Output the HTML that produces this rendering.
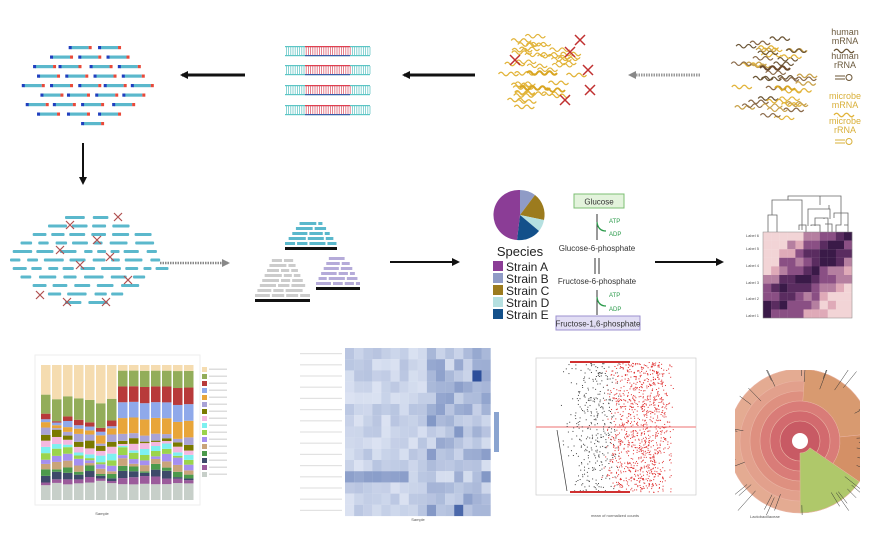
<!DOCTYPE html>
<html><head><meta charset="utf-8"><style>
html,body{margin:0;padding:0;background:#fff;width:884px;height:538px;overflow:hidden}
svg{display:block;font-family:"Liberation Sans",sans-serif}
</style></head><body>
<svg id="s" width="884" height="538" viewBox="0 0 884 538" xmlns="http://www.w3.org/2000/svg">
<defs>
<marker id="ah" markerWidth="8" markerHeight="8" refX="6" refY="4" orient="auto" markerUnits="userSpaceOnUse"><path d="M0,0 L8,4 L0,8 z" fill="#111"/></marker>
<marker id="ag" markerWidth="8" markerHeight="8" refX="6" refY="4" orient="auto" markerUnits="userSpaceOnUse"><path d="M0,0 L8,4 L0,8 z" fill="#888"/></marker>
<clipPath id="sbc"><rect x="735" y="370" width="125" height="145"/></clipPath>
</defs>
<rect x="536" y="358" width="160" height="137" fill="#fff" stroke="#ccc" stroke-width="0.7"/>
<line x1="536" y1="427" x2="696" y2="427" stroke="#f4a0a0" stroke-width="1.5"/>
<g id="g"></g>
<line x1="245" y1="75" x2="182" y2="75" stroke="#111" stroke-width="3" marker-end="url(#ah)"/>
<line x1="475" y1="75" x2="404" y2="75" stroke="#111" stroke-width="3" marker-end="url(#ah)"/>
<line x1="700" y1="75" x2="630" y2="75" stroke="#999" stroke-width="3" stroke-dasharray="1.5 1" marker-end="url(#ag)"/>
<line x1="83" y1="143" x2="83" y2="183" stroke="#111" stroke-width="2" marker-end="url(#ah)"/>
<line x1="160" y1="263" x2="228" y2="263" stroke="#888" stroke-width="2.5" stroke-dasharray="1.5 1" marker-end="url(#ag)"/>
<line x1="390" y1="262" x2="458" y2="262" stroke="#111" stroke-width="2" marker-end="url(#ah)"/>
<line x1="655" y1="262" x2="722" y2="262" stroke="#111" stroke-width="2" marker-end="url(#ah)"/>
<g font-size="9" text-anchor="middle">
<text x="845" y="35" fill="#6b5a3e">human</text><text x="845" y="44" fill="#6b5a3e">mRNA</text>
<text x="845" y="59" fill="#6b5a3e">human</text><text x="845" y="68" fill="#6b5a3e">rRNA</text>
<text x="845" y="99" fill="#d9b03a">microbe</text><text x="845" y="108" fill="#d9b03a">mRNA</text>
<text x="845" y="124" fill="#d9b03a">microbe</text><text x="845" y="133" fill="#d9b03a">rRNA</text>
</g>
<g fill="none" stroke-width="1">
<path d="M835,76 h10 M835,79 h10" stroke="#6b5536"/><circle cx="849" cy="77.5" r="3" stroke="#6b5536"/>
<path d="M835,140 h10 M835,143 h10" stroke="#d9b03a"/><circle cx="849" cy="141.5" r="3" stroke="#d9b03a"/>
</g>
<g transform="translate(520,215)">
<path d="M0,0 L0,-25 A25,25 0 0 1 15,-20 z" fill="#8f9bc6"/>
<path d="M0,0 L15,-20 A25,25 0 0 1 24,5 z" fill="#9c7b1e"/>
<path d="M0,0 L24,5 A25,25 0 0 1 19,16 z" fill="#b5e0e0"/>
<path d="M0,0 L19,16 A25,25 0 0 1 -3,25 z" fill="#13508a"/>
<path d="M0,0 L-3,25 A25,25 0 0 1 0,-25 z" fill="#8b3d96"/>
</g>
<text x="520" y="256" font-size="13" text-anchor="middle" fill="#222">Species</text>
<g font-size="12" fill="#222">
<rect x="493" y="261" width="10" height="10" fill="#8b3d96"/><text x="506" y="271">Strain A</text>
<rect x="493" y="273" width="10" height="10" fill="#8f9bc6"/><text x="506" y="283">Strain B</text>
<rect x="493" y="285" width="10" height="10" fill="#9c7b1e"/><text x="506" y="295">Strain C</text>
<rect x="493" y="297" width="10" height="10" fill="#b5e0e0"/><text x="506" y="307">Strain D</text>
<rect x="493" y="309" width="10" height="10" fill="#13508a"/><text x="506" y="319">Strain E</text>
</g>
<rect x="574" y="194" width="50" height="14" fill="#e3f3dc" stroke="#7cbf73"/>
<text x="599" y="204.5" font-size="8" text-anchor="middle" fill="#333">Glucose</text>
<line x1="597" y1="214" x2="597" y2="240" stroke="#333"/>
<path d="M597,222 Q598,231 606,231" stroke="#2a9a4a" fill="none" stroke-width="1.2"/>
<text x="609" y="223" font-size="6" fill="#2a9a4a">ATP</text><text x="609" y="236" font-size="6" fill="#2a9a4a">ADP</text>
<text x="597" y="251" font-size="8" text-anchor="middle" fill="#333">Glucose-6-phosphate</text>
<line x1="595" y1="258" x2="595" y2="274" stroke="#333"/><line x1="599" y1="258" x2="599" y2="274" stroke="#333"/>
<text x="597" y="284" font-size="8" text-anchor="middle" fill="#333">Fructose-6-phosphate</text>
<line x1="597" y1="290" x2="597" y2="315" stroke="#333"/>
<path d="M597,297 Q598,306 606,306" stroke="#2a9a4a" fill="none" stroke-width="1.2"/>
<text x="609" y="297" font-size="6" fill="#2a9a4a">ATP</text><text x="609" y="311" font-size="6" fill="#2a9a4a">ADP</text>
<rect x="556" y="316" width="84" height="14" fill="#e2def4" stroke="#9c92cf"/>
<text x="598" y="326.5" font-size="8" text-anchor="middle" fill="#333">Fructose-1,6-phosphate</text>
<g stroke="#666" fill="none" stroke-width="0.8">
<path d="M768,232 V215 H777 V232 M772,215 V200 H802 V230 M799,230 V225 H806 V232 M788,200 V196 H841 V218 M811,226 V225 H820 V232 M808,219 V209 H830 V219 M808,219 V226 M815,226 V218 H828 V232 M824,218 V219 M829,209 V205 M825,224 H832 V232 M834,218 V213 H848 V232 M841,213 V225 H836 V232 M844,225 H848 M820,205 V196"/>
</g>
<g id="hm2"></g>
<g font-size="4" fill="#555" text-anchor="end">
<text x="759" y="237">Label 6</text><text x="759" y="250">Label 5</text><text x="759" y="267">Label 4</text><text x="759" y="284">Label 3</text><text x="759" y="300">Label 2</text><text x="759" y="317">Label 1</text>
</g>
<rect x="35" y="355" width="165" height="150" fill="none" stroke="#eee"/>
<text x="615" y="517" font-size="4" fill="#555" text-anchor="middle">mean of normalized counts</text>
<text x="102" y="515" font-size="4" fill="#555" text-anchor="middle">Sample</text>
<text x="418" y="521" font-size="4" fill="#555" text-anchor="middle">Sample</text>
<text x="750" y="518" font-size="4" fill="#555">Lactobacillaceae</text>
</svg>
<script>
(function(){
var g=document.getElementById('g'),NS='http://www.w3.org/2000/svg';
var seed=7;function r(){seed=(seed*16807)%2147483647;return seed/2147483647;}
function el(t,a,p){var e=document.createElementNS(NS,t);for(var k in a)e.setAttribute(k,a[k]);(p||g).appendChild(e);return e;}
var xs=[[118,170],[85,135,185],[55,100,155,205],[62,112,162,212],[35,85,135,180,228],[68,115,165,213],[42,90,140,195],[62,115,170],[140]];
for(var i=0;i<xs.length;i++){for(var j=0;j<xs[i].length;j++){var x=xs[i][j]/1.77+2,y=46+i*9.5;
el('rect',{x:x+2,y:y,width:18,height:3.2,fill:'#5bb8cc'});el('rect',{x:x,y:y,width:3,height:3.2,fill:'#1f3fbf'});el('rect',{x:x+20,y:y,width:3,height:3.2,fill:'#e84a3a'});}}
[47,66,86,106].forEach(function(y){
el('rect',{x:285,y:y-1,width:85,height:1.2,fill:'#5cc5c5'});el('rect',{x:285,y:y+8,width:85,height:1.2,fill:'#5cc5c5'});
el('rect',{x:305,y:y-1,width:45,height:1.2,fill:'#e04050'});el('rect',{x:305,y:y+8,width:45,height:1.2,fill:'#3b5ca8'});
for(var x=286;x<370;x+=2.2)el('rect',{x:x,y:y,width:0.8,height:8,fill:(x>305&&x<350)?'#e06070':'#6cc8c8'});
});
function wave(cx,cy,len,col,w){var d='M'+cx.toFixed(1)+','+cy.toFixed(1);for(var k=0;k<len;k++){d+=' q2.5,-3.5 5,0 q2.5,3.5 5,0';}el('path',{d:d,stroke:col,fill:'none','stroke-width':w||1.2});}
for(var i=0;i<38;i++){var a=r()*6.28,rr=Math.sqrt(r())*38;wave(530+Math.cos(a)*rr,75+Math.sin(a)*rr*1.1,2,'#e2b43a');}
wave(527,73,3,'#d9a520',2);wave(520,88,3,'#d9a520',2);wave(545,90,2,'#d9a520',1.8);
[[570,52],[588,70],[590,90],[515,60],[565,100],[580,40]].forEach(function(p){el('path',{d:'M'+(p[0]-5)+','+(p[1]-5)+' l10,10 M'+(p[0]+5)+','+(p[1]-5)+' l-10,10',stroke:'#c03030','stroke-width':1.5});});
var cols=['#e2b43a','#8a6a4a','#6b5536','#c9a24a'];
for(var i=0;i<45;i++){var a=r()*6.28,rr=Math.sqrt(r())*38;wave(760+Math.cos(a)*rr,78+Math.sin(a)*rr*1.15,2,cols[i%4]);}
wave(760,68,3,'#6b4a2a',2);wave(775,88,2,'#d9a520',1.8);
wave(834,51,2,'#6b5536');wave(834,115,2,'#e2b43a');
for(var i=0;i<11;i++){var y=216+i*8.5,w=Math.sin(i/10*3.14)*55+20;var x=85-w;
while(x<85+w){var l=8+r()*12;el('rect',{x:x,y:y,width:l,height:3,fill:'#5bb8cc',rx:1});x+=l+4+r()*4;}}
[[70,225],[118,217],[97,240],[60,250],[110,257],[80,265],[128,280],[67,302],[106,302],[40,295]].forEach(function(p){el('path',{d:'M'+(p[0]-4)+','+(p[1]-4)+' l8,8 M'+(p[0]+4)+','+(p[1]-4)+' l-8,8',stroke:'#b05050','stroke-width':1.2});});
function stack(x0,x1,y0,y1,col){var n=Math.round((y1-y0)/5);for(var i=0;i<n;i++){var y=y1-5-i*5,sh=(i/n)*(x1-x0)*0.35;var x=x0+sh;while(x<x1-sh-4){var l=Math.min(8+r()*10,x1-sh-x);el('rect',{x:x,y:y,width:l,height:3,fill:col});x+=l+2;}}el('rect',{x:x0,y:y1,width:x1-x0,height:3,fill:'#111'});}
stack(285,337,220,247,'#5ab8cc');stack(255,310,258,299,'#ccc');stack(316,360,255,287,'#b5abd9');
var hm=document.getElementById('hm2'),pal=['#f2d4d6','#dfaab8','#b57fa0','#8a4f84','#5a2c60','#3a1a48'];
for(var i=0;i<10;i++)for(var j=0;j<11;j++){var d=Math.abs((9-i)-j*0.9);var v=Math.max(0,Math.min(5,Math.round(5-d*0.8+(r()-0.5)*2)));
el('rect',{x:763+j*8.1,y:232+i*8.6,width:8.2,height:8.7,fill:pal[v]},hm);}
el('rect',{x:763,y:232,width:89,height:86,fill:'none',stroke:'#888','stroke-width':0.5},hm);
var bc=['#c7cfc9','#9b5b9b','#3e4a6a','#4c9a4c','#c9a47a','#a58ff0','#9bd44c','#7df0f0','#f4b8e0','#7a7a00','#a9a3d6','#e8a53a','#8fa9ea','#b83a3a','#93ad5a','#f5dcb0'];
for(var b=0;b<14;b++){var x=41+b*11,y=500;
var w=[];var t=0;for(var k=0;k<16;k++){var v=(k==0?14:k==15?(b<7?28:5):k==14&&b<7?18:k>=11&&b>=7?14:r()*6+1);w.push(v);t+=v;}
for(var k=0;k<16;k++){var h=w[k]/t*135;el('rect',{x:x,y:y-h,width:9.5,height:h,fill:bc[k]});y-=h;}}
for(var k=0;k<16;k++){el('rect',{x:202,y:367+k*7,width:5,height:5,fill:bc[15-k]});el('rect',{x:209,y:368.5+k*7,width:18,height:1.5,fill:'#ddd'});}
for(var i=0;i<15;i++)for(var j=0;j<16;j++){var v=0.08+r()*0.18;if(j>8)v+=r()*0.3;if(i==11&&j<7)v+=0.25;if(i==2&&j==14)v=0.95;if(i==14&&j==12)v=0.8;
var c='rgb('+Math.round(235-v*200)+','+Math.round(240-v*170)+','+Math.round(250-v*100)+')';
el('rect',{x:345+j*9.1,y:348+i*11.2,width:9.2,height:11.3,fill:c});if(j==0)el('rect',{x:300,y:353+i*11.2,width:42,height:1.2,fill:'#e2e2e2'});}
el('rect',{x:494,y:412,width:5,height:40,fill:'#8aa4d0'});
for(var i=0;i<1400;i++){var x=555+Math.pow(r(),0.6)*100+r()*20,y=362+r()*130;var red=x>600+r()*20;el('rect',{x:x,y:y,width:1,height:1,fill:red?'#e03030':'#444'});}
el('rect',{x:570,y:361,width:60,height:2,fill:'#d03030'});el('rect',{x:570,y:491,width:60,height:2,fill:'#d03030'});
el('line',{x1:557,y1:430,x2:567,y2:491,stroke:'#333','stroke-width':0.7});
var sb=el('g',{'clip-path':'url(#sbc)'});
var rc=['#c85a64','#d26a6e','#d97c78','#de9080','#e2a08c','#e4ab92'];
var cx=800,cy=441;
for(var k=5;k>=0;k--){el('circle',{cx:cx,cy:cy,r:(k==5?72:20+k*10),fill:rc[k],stroke:'#eab4a4','stroke-width':0.6},sb);}
function wedge(r0,r1,a0,a1,f){var p=function(r,a){return (cx+r*Math.cos(a)).toFixed(1)+','+(cy+r*Math.sin(a)).toFixed(1);};
el('path',{d:'M'+p(r0,a0)+' L'+p(r1,a0)+' A'+r1+','+r1+' 0 0 1 '+p(r1,a1)+' L'+p(r0,a1)+' A'+r0+','+r0+' 0 0 0 '+p(r0,a0)+' z',fill:f,stroke:'#eab4a4','stroke-width':0.5},sb);}
wedge(40,72,-1.5,-0.1,'#d89a70');wedge(40,72,-0.1,0.6,'#d49066');wedge(12,72,0.6,1.57,'#afc86a');
for(var i=0;i<40;i++){var a=r()*6.28,r0=55+r()*15,r1=r0+12+r()*20;el('line',{x1:cx+r0*Math.cos(a),y1:cy+r0*Math.sin(a),x2:cx+r1*Math.cos(a),y2:cy+r1*Math.sin(a),stroke:'#333','stroke-width':0.5},sb);}
el('circle',{cx:cx,cy:cy,r:8,fill:'#fff'},sb);
})();
</script>
</body></html>
